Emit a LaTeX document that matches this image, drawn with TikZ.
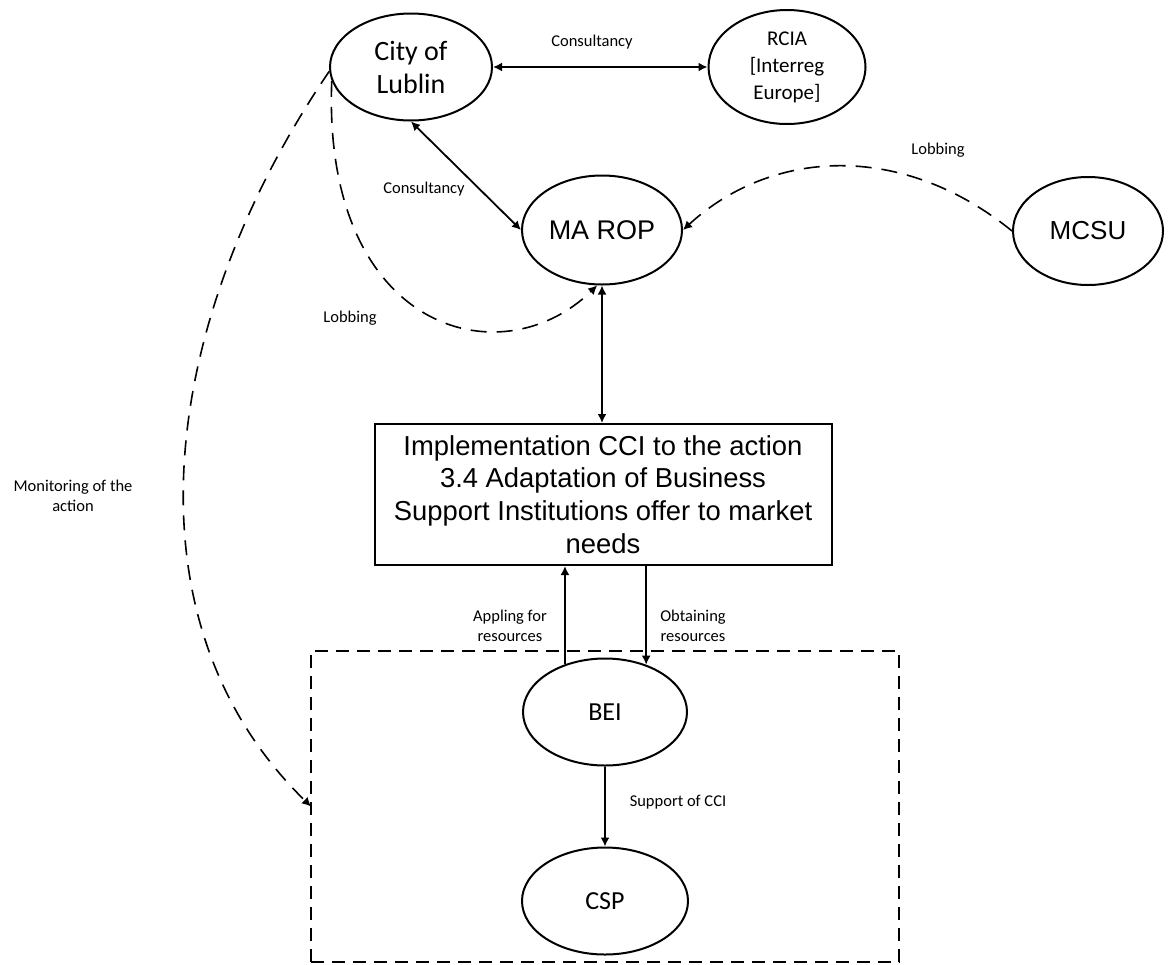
\documentclass[tikz,border=0pt]{standalone}
\usepackage{fontspec}
\setmainfont{Carlito}
\newfontfamily\arialfont{Liberation Sans}
\usepackage{tikz}
\usetikzlibrary{arrows.meta,shapes.geometric}

\tikzset{
  tip/.style={-{Latex[length=4.5pt,width=4.5pt]}},
  actor/.style={draw,ellipse,line width=1pt,inner sep=0pt,align=center},
  task/.style={draw,line width=1pt,inner sep=0pt,align=center,
    minimum width=228.5pt,minimum height=70.5pt,
    font=\arialfont\fontsize{13.7}{16.4}\selectfont},
  lbl/.style={font=\fontsize{8.25}{10}\selectfont,align=center},
  arr/.style={line width=0.9pt,tip},
  dbl/.style={line width=0.9pt,{Latex[length=4.5pt,width=4.5pt]}-{Latex[length=4.5pt,width=4.5pt]}},
  lob/.style={line width=0.8pt,dash pattern=on 8pt off 5pt,tip},
  region/.style={draw,line width=0.9pt,dash pattern=on 6.5pt off 4pt,inner sep=0pt,outer sep=0pt}
}

\begin{document}
\begin{tikzpicture}[x=0.5pt,y=-0.5pt]
\useasboundingbox (0,0) rectangle (1171,964);
% ---------- actors ----------
\node[actor,minimum width=81pt,minimum height=53.5pt,font=\fontsize{14}{16.5}\selectfont]
  (city) at (411,67) {City of\\Lublin};
\node[actor,minimum width=78.5pt,minimum height=57pt,font=\fontsize{10.5}{13.5}\selectfont]
  (rcia) at (787,67) {RCIA\\{[}Interreg\\Europe{]}};
\node[actor,minimum width=80pt,minimum height=54.5pt,font=\arialfont\fontsize{13.5}{16}\selectfont]
  (marop) at (602,230) {MA ROP};
\node[actor,minimum width=75pt,minimum height=54pt,font=\arialfont\fontsize{13}{16}\selectfont]
  (mcsu) at (1088,231) {MCSU};
\node[task] (impl) at (603,494.5)
  {Implementation CCI to the action\\3.4 Adaptation of Business\\Support Institutions offer to market\\needs};
% ---------- group of beneficiaries ----------
\node[region,minimum width=294pt,minimum height=155.5pt] (grp) at (605,806.5) {};
\node[actor,minimum width=82pt,minimum height=53.5pt,font=\fontsize{13}{16}\selectfont]
  (bei) at (605,712) {BEI};
\node[actor,minimum width=83pt,minimum height=53.5pt,font=\fontsize{13}{16}\selectfont]
  (csp) at (605,901) {CSP};
% ---------- connectors ----------
\draw[dbl] (city.east) -- (rcia.west);
\draw[dbl] (city.south) -- (marop.west);
\draw[dbl] (marop.south) -- (marop.south |- impl.north);
\draw[arr] (bei.130.5) -- (bei.130.5 |- impl.south);
\draw[arr] (bei.49.5 |- impl.south) -- (bei.49.5);
\draw[arr] (bei.south) -- (csp.north);
\draw[lob] (mcsu.west) .. controls (900,140) and (770,150) .. (marop.east);
\draw[lob] (city.190) .. controls (322,330) and (500,380) .. (marop.-95);
\draw[lob,dash pattern=on 7.5pt off 5pt] (city.183) .. controls (160,320) and (120,620) .. (grp.west);
% ---------- labels ----------
\node[lbl] (l1) at (592,42) {Consultancy};
\node[lbl] (l2) at (424,189) {Consultancy};
\node[lbl] (l3) at (350,318) {Lobbing};
\node[lbl] (l4) at (938,150) {Lobbing};
\node[lbl] (l5) at (73,496) {Monitoring of the\\action};
\node[lbl] (l6) at (510,626) {Appling for\\resources};
\node[lbl] (l7) at (693,626) {Obtaining\\resources};
\node[lbl] (l8) at (678,802) {Support of CCI};
\end{tikzpicture}
\end{document}
